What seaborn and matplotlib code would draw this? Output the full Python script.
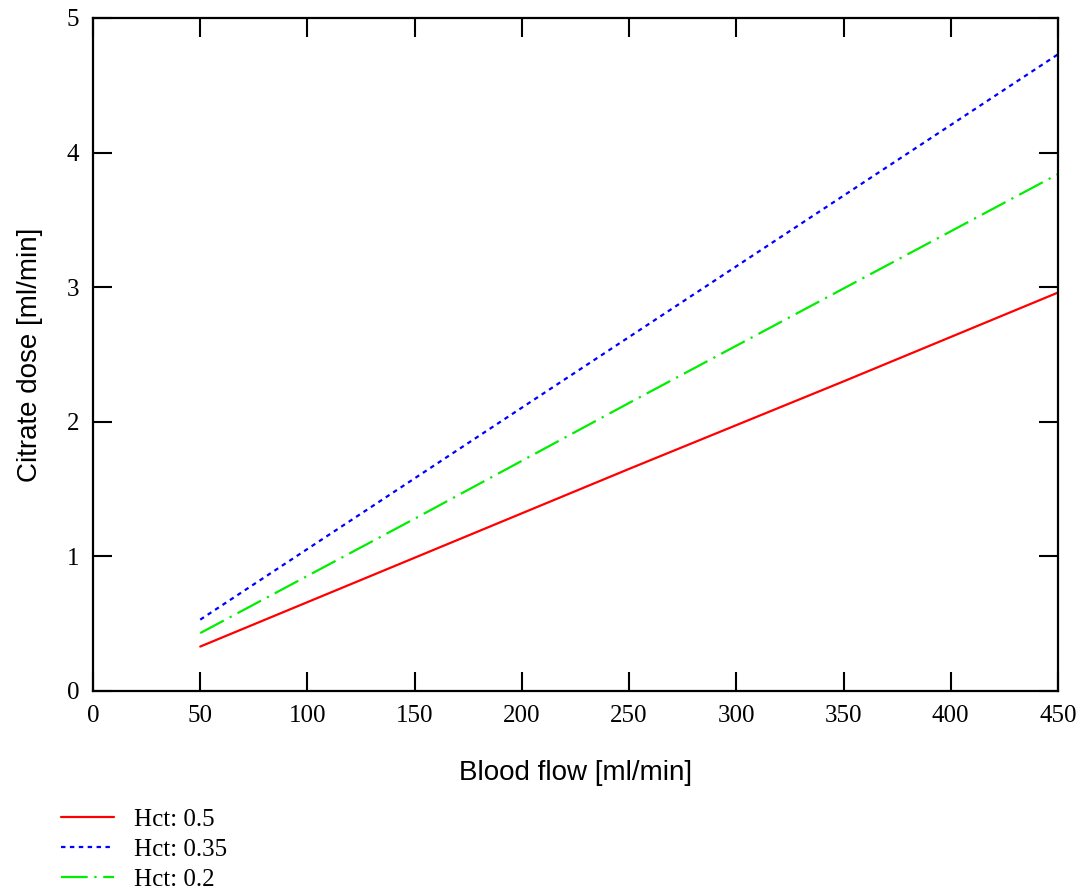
import numpy as np
import pandas as pd
import matplotlib
matplotlib.use('Agg')
import matplotlib.pyplot as plt
import seaborn as sns

# ── Data ─────────────────────────────────────────────────────────────
flow = [50, 150, 250, 350, 450]
dose_hct_05 = [0.33, 0.99, 1.65, 2.30, 2.96]
dose_hct_035 = [0.53, 1.58, 2.63, 3.68, 4.73]
dose_hct_02 = [0.43, 1.28, 2.14, 2.99, 3.84]
labels = ['Hct: 0.5', 'Hct: 0.35', 'Hct: 0.2']

x_ticks = list(range(0, 451, 50))
y_ticks = [0, 1, 2, 3, 4, 5]

sns.set_theme(style='white')
plt.rcParams['font.family'] = ['Liberation Serif', 'DejaVu Serif']
plt.rcParams['text.color'] = 'black'
plt.rcParams['axes.labelcolor'] = 'black'
plt.rcParams['xtick.color'] = 'black'
plt.rcParams['ytick.color'] = 'black'

fig = plt.figure(figsize=(10.78, 8.91), dpi=100)
ax = fig.add_axes([0.0863, 0.2245, 0.8951, 0.7553])

styles = [
    (dose_hct_05, '#ff0000', None),
    (dose_hct_035, '#0000ff', (2, 2)),
    (dose_hct_02, '#00ee00', (12, 3, 1, 3)),
]
handles = []
for (vals, col, dash), lab in zip(styles, labels):
    df = pd.DataFrame({'flow': flow, 'dose': vals})
    sns.lineplot(data=df, x='flow', y='dose', ax=ax, color=col, lw=1.6,
                 label=lab, legend=False)
    ln = ax.lines[-1]
    if dash is not None:
        ln.set_dashes(dash)
    handles.append(ln)

ax.set_xlim(0, 450)
ax.set_ylim(0, 5)
ax.set_xticks(x_ticks)
ax.set_yticks(y_ticks)
ax.tick_params(direction='in', length=14, width=1.5, color='black',
               top=True, right=True, labelsize=18, pad=10,
               bottom=True, left=True)
for s in ax.spines.values():
    s.set_visible(True)
    s.set_color('black')
    s.set_linewidth(1.6)

ax.set_xlabel('Blood flow [ml/min]', family=['Liberation Sans'],
              fontsize=20, labelpad=24)
ax.set_ylabel('Citrate dose [ml/min]', family=['Liberation Sans'],
              fontsize=20, labelpad=17)

fig.legend(handles=handles, labels=labels, loc='upper left',
           bbox_to_anchor=(0.0566, 0.093), frameon=False,
           fontsize=18, handlelength=2.1, handletextpad=0.8,
           labelspacing=0.3, borderaxespad=0, borderpad=0)

fig.savefig('out.png', dpi=100)
